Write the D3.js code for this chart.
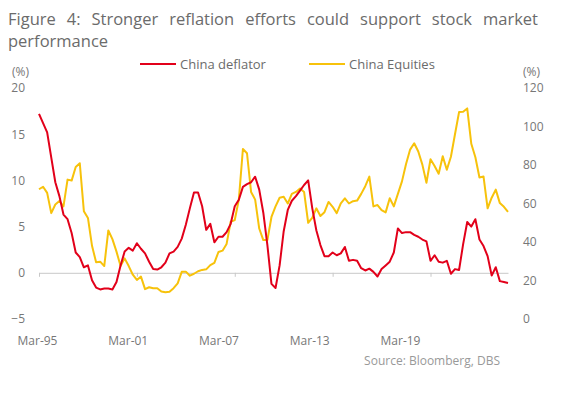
<!DOCTYPE html>
<html><head><meta charset="utf-8">
<script src="https://cdn.jsdelivr.net/npm/d3@7"></script>
<style>
html,body{margin:0;padding:0;background:#fff;}
svg{display:block;font-family:"Open Sans",sans-serif;}
</style></head>
<body><svg id="c" width="562" height="395"></svg>
<script>
const titleLine1 = "Figure 4: Stronger reflation efforts could support stock market";
const titleLine2 = "performance";
const seriesNames = ["China deflator", "China Equities"];
const xTickLabels = ["Mar-95", "Mar-01", "Mar-07", "Mar-13", "Mar-19"];
const leftTicks = [-5, 0, 5, 10, 15, 20];
const rightTicks = [0, 20, 40, 60, 80, 100, 120];
const sourceText = "Source: Bloomberg, DBS";

// quarterly observations, Mar-95 .. Dec-23
const deflator = [17.2,16.2,15.2,12.5,9.8,8.3,6.3,5.8,4.3,2.2,1.7,0.6,0.8,-0.8,-1.6,-1.8,-1.7,-1.7,-1.8,-1.0,
 0.8,2.3,2.7,2.4,3.2,2.6,2.1,1.2,0.4,0.35,0.6,1.1,2.1,2.3,2.8,3.7,5.2,7.0,8.7,8.7,
 7.2,4.65,5.3,3.3,3.9,3.9,4.4,5.3,7.2,7.9,9.3,9.6,9.8,10.4,9.0,6.5,3.0,-1.2,-1.65,0.8,
 4.5,6.8,7.8,8.3,8.9,9.5,10.0,7.0,4.6,3.0,1.8,1.8,2.2,1.9,2.1,2.8,1.3,1.4,1.3,0.5,
 0.25,0.45,0.1,-0.4,0.4,0.8,1.2,2.2,4.8,4.3,4.4,4.4,4.1,3.9,3.6,3.4,1.3,1.9,1.2,1.1,
 1.3,-0.1,0.4,0.3,3.1,5.5,5.0,5.8,3.6,2.9,1.8,-0.3,0.6,-0.9,-1.0,-1.1];
const equities = [67.4,68.7,65.5,55,59.5,61.3,58.5,72.4,71.9,79,80.9,56,52.5,38,29.5,29.8,27.5,46,41.5,35,
 27.5,31.5,27.5,23,20.3,22,15.5,16.5,16,16,14.3,13.9,14.1,16,18.5,24.5,24.6,22.5,23.5,24.8,
 25.5,25.8,28,29.2,34.8,35.5,39,50.5,51.4,62,88.3,86.1,66,62,47,41,41,53,58.5,63,
 63.5,60,65,66,67.8,66,50,52.5,57.5,53.5,55.5,60.8,58.3,55,60.1,62.7,60,61.2,61.5,65,
 69,74,58.5,59.2,56.6,55.4,62.7,58.5,65,71.5,80.5,88,91.3,87,80.2,70.8,83,79.5,75.5,84.5,
 77.5,84.3,96,107.5,107.7,109.4,91,84,73.5,74,57.5,63,67.2,60.2,58.3,55.7];

const months = ["Mar","Jun","Sep","Dec"];
const categories = deflator.map((d,i)=> months[i%4] + "-" + String((95 + Math.floor(i/4)) % 100).padStart(2,"0"));

const RED = "#e2001a", YEL = "#f7c20b", GREY = "#6b6b6b";
const svg = d3.select("#c");

// title, line 1 justified
const tg = svg.append("g").attr("fill", GREY).style("font-size","16.5px");
const words = titleLine1.split(" ");
const wn = words.map(w => tg.append("text").attr("y", 25).text(w));
const widths = wn.map(n => n.node().getComputedTextLength());
const tl = 8, tr = 538;
const gap = (tr - tl - d3.sum(widths)) / (words.length - 1);
let cx = tl;
wn.forEach((n,i)=>{ n.attr("x", cx); cx += widths[i] + gap; });
tg.append("text").attr("x", tl).attr("y", 47).text(titleLine2);

const x = d3.scaleLinear().domain([0, deflator.length - 1]).range([39, 508]);
const yL = d3.scaleLinear().domain([-5, 20]).range([319, 88]);
const yR = d3.scaleLinear().domain([0, 120]).range([319, 88]);
const xLab = d3.scalePoint().domain(xTickLabels).range([37, 400]);

// zero line + tick marks
const xa = svg.append("g").attr("transform", `translate(0,${yL(0)})`)
  .call(d3.axisBottom(x).tickValues([0,24,48,72,96]).tickFormat("").tickSizeInner(4).tickSizeOuter(0));
xa.selectAll("path,line").attr("stroke", "#c8c8c8");

const xl = svg.append("g").attr("transform", "translate(0,337)")
  .call(d3.axisBottom(xLab).tickSize(0).tickPadding(0));
xl.select(".domain").remove();
xl.selectAll("text").attr("fill", "#777").style("font-size","12px").style("font-family","Open Sans").attr("dy","0.7em");

const la = svg.append("g").attr("transform", "translate(25,0)")
  .call(d3.axisLeft(yL).tickValues(leftTicks).tickSize(0).tickPadding(0));
la.select(".domain").remove();
la.selectAll("text").attr("fill", "#777").style("font-size","12px").style("font-family","Open Sans");

const ra = svg.append("g").attr("transform", "translate(523,0)")
  .call(d3.axisRight(yR).tickValues(rightTicks).tickSize(0).tickPadding(0));
ra.select(".domain").remove();
ra.selectAll("text").attr("fill", "#777").style("font-size","12px").style("font-family","Open Sans");

svg.append("text").attr("x", 12).attr("y", 76).attr("fill","#777").style("font-size","12px").text("(%)");
svg.append("text").attr("x", 523).attr("y", 76).attr("fill","#777").style("font-size","12px").text("(%)");

// lines
const lineL = d3.line().x((d,i)=>x(i)).y(d=>yL(d));
const lineR = d3.line().x((d,i)=>x(i)).y(d=>yR(d));
svg.append("path").datum(equities).attr("d", lineR).attr("fill","none").attr("stroke", YEL).attr("stroke-width",2).attr("stroke-linejoin","round");
svg.append("path").datum(deflator).attr("d", lineL).attr("fill","none").attr("stroke", RED).attr("stroke-width",2).attr("stroke-linejoin","round");

// legend
const lg = svg.append("g").style("font-size","13px");
const legendItems = [{name: seriesNames[0], color: RED, x: 140}, {name: seriesNames[1], color: YEL, x: 309}];
legendItems.forEach(it=>{
  lg.append("line").attr("x1", it.x).attr("x2", it.x+36).attr("y1", 64).attr("y2", 64).attr("stroke", it.color).attr("stroke-width", 2);
  lg.append("text").attr("x", it.x+40).attr("y", 68.5).attr("fill", GREY).text(it.name);
});

svg.append("text").attr("x", 500).attr("y", 365).attr("text-anchor","end").attr("fill","#999").style("font-size","12px").text(sourceText);
</script></body></html>
